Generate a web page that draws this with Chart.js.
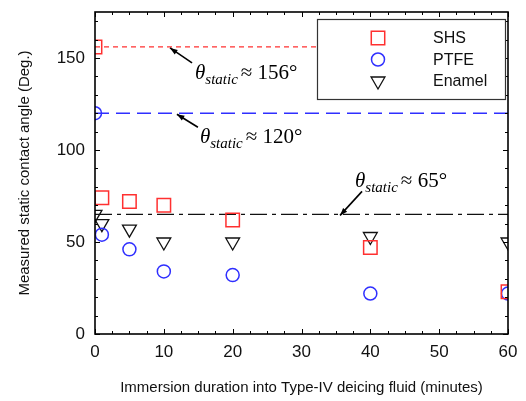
<!DOCTYPE html>
<html>
<head>
<meta charset="utf-8">
<script src="https://cdn.jsdelivr.net/npm/chart.js@4"></script>
<style>
  html, body { margin: 0; padding: 0; background: #fff; }
  #wrap { width: 526px; height: 401px; }
</style>
</head>
<body>
<div id="wrap"><canvas id="angleChart" width="526" height="401"></canvas></div>
<script>
// Dados
const minutes = [0, 1, 5, 10, 20, 40, 60];
const shsAngle = [156, 74, 72, 70, 62, 47, 23];
const ptfeAngle = [120, 54, 46, 34, 32, 22, 22];
const enamelAngle = [65, 60, 57, 50, 50, 53, 50];

// Linhas de referência (ângulo estático inicial)
const refSHS = 156;
const refPTFE = 120;
const refEnamel = 65;
const refRange = [0, 60];

const yTickLabels = [0, 50, 100, 150];

const RED = '#ff3030';
const BLUE = '#2f2fff';
const BLACK = '#111';

function toPoints(xs, ys) {
  return xs.map((x, i) => ({ x: x, y: ys[i] }));
}
function refLine(v) {
  return refRange.map(x => ({ x: x, y: v }));
}

// Anotações: ponta da seta em coordenadas de dados
const notes = [
  { tipX: 10.9, tipY: refSHS, dx: 22, dy: 15, tx: 25, ty: 31, value: '156°' },
  { tipX: 11.9, tipY: refPTFE, dx: 21, dy: 13, tx: 23, ty: 29, value: '120°' },
  { tipX: 35.6, tipY: refEnamel, dx: 22, dy: -24, tx: 15, ty: -28, value: '65°' }
];

// Moldura e marcas de escala para dentro
const framePlugin = {
  id: 'frame',
  afterDraw(chart) {
    const { ctx, chartArea: a, scales } = chart;
    const xs = scales.x, ys = scales.y;
    ctx.save();
    ctx.strokeStyle = '#000';
    ctx.lineWidth = 1;
    ctx.beginPath();
    for (let v = 0; v <= 60.01; v += 2.5) {
      const px = Math.round(xs.getPixelForValue(v)) + 0.5;
      const len = (v % 10 === 0) ? 5 : 3;
      ctx.moveTo(px, a.bottom); ctx.lineTo(px, a.bottom - len);
      ctx.moveTo(px, a.top); ctx.lineTo(px, a.top + len);
    }
    for (let v = 0; v <= 175; v += 10) {
      const py = Math.round(ys.getPixelForValue(v)) + 0.5;
      const len = (v % 50 === 0) ? 5 : 3;
      ctx.moveTo(a.left, py); ctx.lineTo(a.left + len, py);
      ctx.moveTo(a.right, py); ctx.lineTo(a.right - len, py);
    }
    ctx.stroke();
    ctx.lineWidth = 1.6;
    ctx.strokeRect(a.left, a.top, a.right - a.left, a.bottom - a.top);

    // Setas e textos
    notes.forEach(n => {
      const x2 = xs.getPixelForValue(n.tipX);
      const y2 = ys.getPixelForValue(n.tipY) + 1;
      const x1 = x2 + n.dx, y1 = y2 + n.dy;
      ctx.strokeStyle = '#000';
      ctx.fillStyle = '#000';
      ctx.lineWidth = 1.6;
      ctx.beginPath();
      ctx.moveTo(x1, y1); ctx.lineTo(x2, y2);
      ctx.stroke();
      const ang = Math.atan2(y2 - y1, x2 - x1);
      ctx.beginPath();
      ctx.moveTo(x2, y2);
      ctx.lineTo(x2 - 8 * Math.cos(ang - 0.35), y2 - 8 * Math.sin(ang - 0.35));
      ctx.lineTo(x2 - 8 * Math.cos(ang + 0.35), y2 - 8 * Math.sin(ang + 0.35));
      ctx.closePath();
      ctx.fill();

      let tx = x2 + n.tx, ty = y2 + n.ty;
      ctx.textBaseline = 'alphabetic';
      ctx.textAlign = 'left';
      ctx.font = 'italic 21px "Liberation Serif"';
      ctx.fillText('θ', tx, ty);
      tx += ctx.measureText('θ').width;
      ctx.font = 'italic 15px "Liberation Serif"';
      ctx.fillText('static', tx, ty + 5);
      tx += ctx.measureText('static').width + 3;
      ctx.font = '21px "Liberation Serif"';
      ctx.fillText('≈ ' + n.value, tx, ty);
    });

    // Legenda com caixa
    const lx = 317, ly = 19, lw = 188, lh = 80;
    ctx.fillStyle = '#fff';
    ctx.fillRect(lx, ly, lw, lh);
    ctx.strokeStyle = '#333';
    ctx.lineWidth = 1.2;
    ctx.strokeRect(lx + 0.5, ly + 0.5, lw, lh);
    chart.data.datasets.slice(0, 3).forEach((ds, i) => {
      const cy = ly + 19 + i * 21.5;
      ctx.fillStyle = 'rgba(0,0,0,0)';
      ctx.strokeStyle = ds.borderColor;
      ctx.lineWidth = ds.borderWidth;
      Chart.helpers.drawPoint(ctx, {
        pointStyle: ds.pointStyle,
        radius: ds.pointRadius,
        rotation: ds.pointRotation || 0,
        borderWidth: ds.borderWidth
      }, lx + 61, cy);
      ctx.fillStyle = '#111';
      ctx.font = '16px "Liberation Sans"';
      ctx.textBaseline = 'middle';
      ctx.fillText(ds.label, lx + 116, cy + 1);
    });
    ctx.restore();
  }
};

const angleChart = new Chart(document.getElementById('angleChart'), {
  type: 'scatter',
  data: {
    datasets: [
      {
        label: 'SHS',
        data: toPoints(minutes, shsAngle),
        pointStyle: 'rect',
        pointRadius: 9.5,
        borderColor: RED,
        backgroundColor: 'rgba(0,0,0,0)',
        borderWidth: 1.5,
        clip: 0
      },
      {
        label: 'PTFE',
        data: toPoints(minutes, ptfeAngle),
        pointStyle: 'circle',
        pointRadius: 6.5,
        borderColor: BLUE,
        backgroundColor: 'rgba(0,0,0,0)',
        borderWidth: 1.5,
        clip: 0
      },
      {
        label: 'Enamel',
        data: toPoints(minutes, enamelAngle),
        pointStyle: 'triangle',
        pointRotation: 180,
        pointRadius: 8,
        borderColor: BLACK,
        backgroundColor: 'rgba(0,0,0,0)',
        borderWidth: 1.3,
        clip: 0
      },
      {
        label: 'ref SHS',
        data: refLine(refSHS),
        showLine: true,
        pointRadius: 0,
        borderColor: RED,
        borderWidth: 1.2,
        borderDash: [5, 4],
        clip: 0
      },
      {
        label: 'ref PTFE',
        data: refLine(refPTFE),
        showLine: true,
        pointRadius: 0,
        borderColor: BLUE,
        borderWidth: 1.5,
        borderDash: [14, 7],
        clip: 0
      },
      {
        label: 'ref Enamel',
        data: refLine(refEnamel),
        showLine: true,
        pointRadius: 0,
        borderColor: BLACK,
        borderWidth: 1.2,
        borderDash: [17, 5, 4, 5],
        clip: 0
      }
    ]
  },
  options: {
    responsive: false,
    animation: false,
    layout: { padding: { top: 12, right: 18, left: 0, bottom: 0 } },
    plugins: {
      legend: { display: false },
      tooltip: { enabled: false }
    },
    scales: {
      x: {
        type: 'linear',
        min: 0,
        max: 60,
        grid: { display: false, drawTicks: false, tickLength: 0 },
        border: { display: false },
        ticks: {
          stepSize: 10,
          color: '#111',
          padding: 8,
          font: { family: 'Liberation Sans', size: 17 }
        },
        title: {
          display: true,
          text: 'Immersion duration into Type-IV deicing fluid (minutes)',
          color: '#111',
          font: { family: 'Liberation Sans', size: 15 },
          padding: { top: 16 }
        },
        afterFit(scale) {
          scale.height = 67;
          scale.paddingLeft = 0;
          scale.paddingRight = 0;
        }
      },
      y: {
        type: 'linear',
        min: 0,
        max: 175,
        grid: { display: false, drawTicks: false, tickLength: 0 },
        border: { display: false },
        afterBuildTicks(scale) {
          scale.ticks = yTickLabels.map(v => ({ value: v }));
        },
        ticks: {
          color: '#111',
          padding: 10,
          font: { family: 'Liberation Sans', size: 17 }
        },
        title: {
          display: true,
          text: 'Measured static contact angle (Deg.)',
          color: '#111',
          font: { family: 'Liberation Sans', size: 15 },
          padding: { top: 16, bottom: 4 }
        },
        afterFit(scale) {
          scale.width = 95;
          scale.paddingTop = 0;
          scale.paddingBottom = 0;
        }
      }
    }
  },
  plugins: [framePlugin]
});
</script>
</body>
</html>
